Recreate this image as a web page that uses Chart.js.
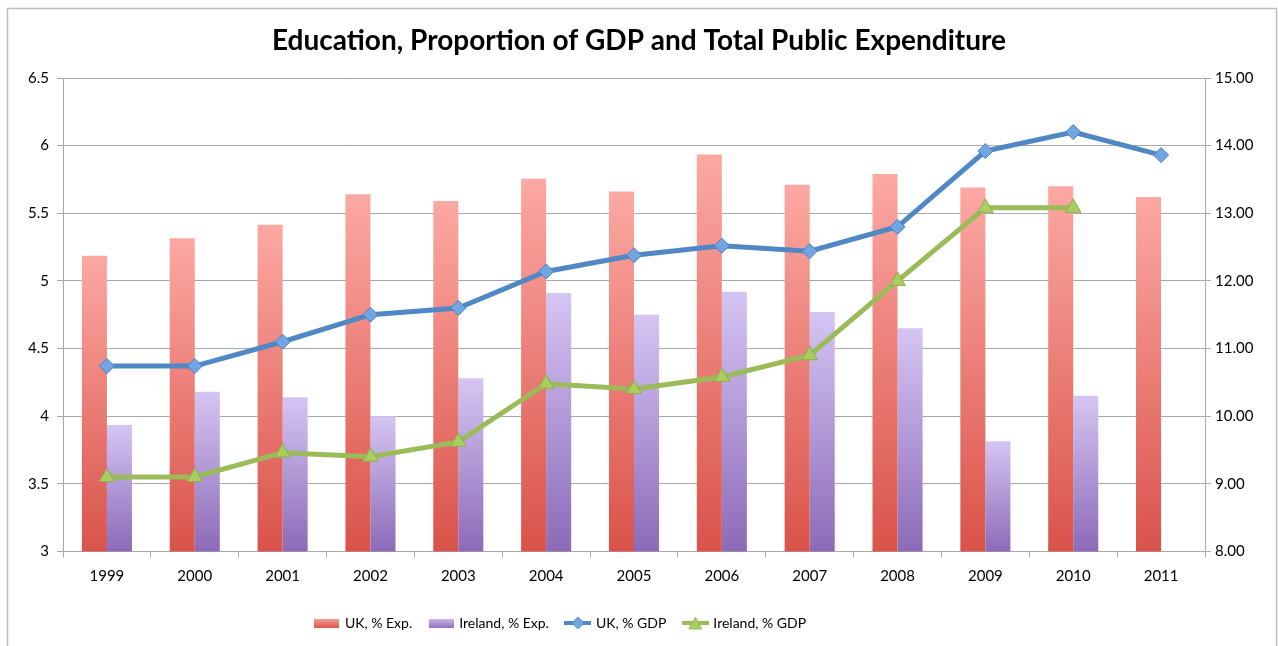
<!DOCTYPE html>
<html>
<head>
<meta charset="utf-8">
<script src="https://cdn.jsdelivr.net/npm/chart.js@4.4.1/dist/chart.umd.min.js"></script>
<style>
  html, body { margin: 0; padding: 0; background: #fff; }
  #wrap { width: 1278px; height: 646px; }
</style>
</head>
<body>
<div id="wrap"><canvas id="myChart" width="1278" height="646"></canvas></div>
<script>
  const years = ['1999', '2000', '2001', '2002', '2003', '2004', '2005', '2006', '2007', '2008', '2009', '2010', '2011'];
  // % of total public expenditure (right axis)
  const ukExp = [12.37, 12.63, 12.83, 13.28, 13.18, 13.51, 13.32, 13.87, 13.42, 13.58, 13.38, 13.40, 13.24];
  const irelandExp = [9.87, 10.36, 10.28, 10.00, 10.56, 11.82, 11.50, 11.84, 11.54, 11.30, 9.63, 10.30, null];
  // % of GDP (left axis)
  const ukGdp = [4.37, 4.37, 4.55, 4.75, 4.80, 5.07, 5.19, 5.26, 5.22, 5.40, 5.96, 6.10, 5.93];
  const irelandGdp = [3.55, 3.55, 3.73, 3.70, 3.81, 4.24, 4.20, 4.29, 4.45, 5.00, 5.54, 5.54, null];

  const FONT = 'Lato';
  const GRID = '#a8a8a8';

  function barGradient(top, bottom) {
    return function (c) {
      const chart = c.chart;
      const area = chart.chartArea;
      if (!area || c.raw == null) return bottom;
      const y = chart.scales.y2.getPixelForValue(c.raw);
      const g = chart.ctx.createLinearGradient(0, y, 0, area.bottom);
      g.addColorStop(0, top);
      g.addColorStop(1, bottom);
      return g;
    };
  }

  // little legend pictures, like Excel draws them
  function barIcon(top, bottom) {
    const cv = document.createElement('canvas');
    cv.width = 25; cv.height = 9;
    const x = cv.getContext('2d');
    const g = x.createLinearGradient(0, 0, 0, 9);
    g.addColorStop(0, top);
    g.addColorStop(1, bottom);
    x.fillStyle = g;
    x.fillRect(0, 0, 25, 9);
    return cv;
  }
  function lineIcon(color, fill, shape) {
    const cv = document.createElement('canvas');
    cv.width = 27; cv.height = 14;
    const x = cv.getContext('2d');
    x.strokeStyle = color; x.lineWidth = 4;
    x.beginPath(); x.moveTo(0, 7); x.lineTo(27, 7); x.stroke();
    x.fillStyle = fill; x.strokeStyle = color; x.lineWidth = 1;
    x.beginPath();
    if (shape === 'diamond') {
      x.moveTo(13.5, 1); x.lineTo(19.5, 7); x.lineTo(13.5, 13); x.lineTo(7.5, 7);
    } else {
      x.moveTo(13.5, 1); x.lineTo(20, 13); x.lineTo(7, 13);
    }
    x.closePath(); x.fill(); x.stroke();
    return cv;
  }

  const icons = [
    barIcon('#f7a09b', '#dc5a50'),
    barIcon('#cdb9ec', '#9273c0'),
    lineIcon('#4f88c5', '#71a5e3', 'diamond'),
    lineIcon('#9bbb59', '#aacd5f', 'triangle')
  ];

  const framePlugin = {
    id: 'frame',
    beforeDraw(chart) {
      const c = chart.ctx;
      c.save();
      c.fillStyle = '#fff';
      c.fillRect(0, 0, chart.width, chart.height);
      c.restore();
    },
    afterDraw(chart) {
      const c = chart.ctx;
      c.save();
      c.strokeStyle = '#bdbdbd';
      c.lineWidth = 1.5;
      c.strokeRect(7.5, 8.5, 1269, 645);
      c.restore();
    },
    afterLayout(chart) {
      // Excel puts the legend a bit left of centre
      chart.legend.left -= 78;
      chart.legend.right -= 78;
    }
  };

  const ctx = document.getElementById('myChart');
  const chart = new Chart(ctx, {
    type: 'bar',
    data: {
      labels: years,
      datasets: [
        {
          label: 'UK, % Exp.',
          data: ukExp,
          yAxisID: 'y2',
          backgroundColor: barGradient('#fca8a3', '#d9534a'),
          categoryPercentage: 0.57,
          barPercentage: 1,
          order: 2
        },
        {
          label: 'Ireland, % Exp.',
          data: irelandExp,
          yAxisID: 'y2',
          backgroundColor: barGradient('#d5c5f3', '#8c6ab8'),
          categoryPercentage: 0.57,
          barPercentage: 1,
          order: 2
        },
        {
          type: 'line',
          label: 'UK, % GDP',
          data: ukGdp,
          yAxisID: 'y',
          borderColor: '#4f88c5',
          borderWidth: 5,
          pointStyle: 'rectRot',
          pointRadius: 7.5,
          pointBackgroundColor: '#71a5e3',
          pointBorderColor: '#4a80bd',
          pointBorderWidth: 1,
          tension: 0,
          order: 1
        },
        {
          type: 'line',
          label: 'Ireland, % GDP',
          data: irelandGdp,
          yAxisID: 'y',
          borderColor: '#9bbb59',
          borderWidth: 5,
          pointStyle: 'triangle',
          pointRadius: 9,
          pointBackgroundColor: '#aacd5f',
          pointBorderColor: '#8eac4f',
          pointBorderWidth: 1,
          tension: 0,
          order: 1
        }
      ]
    },
    options: {
      responsive: false,
      animation: false,
      layout: { padding: { left: 0, right: 0, bottom: 6 } },
      plugins: {
        title: {
          display: true,
          text: 'Education, Proportion of GDP and Total Public Expenditure',
          color: '#000',
          font: { family: FONT, size: 28, weight: 'bold' },
          padding: { top: 24, bottom: 20.4 }
        },
        legend: {
          position: 'bottom',
          labels: {
            usePointStyle: true,
            pointStyleWidth: 22,
            padding: 18,
            color: '#000',
            font: { family: FONT, size: 14 },
            generateLabels: (chart) => chart.data.datasets.map((ds, i) => ({
              text: ds.label,
              pointStyle: icons[i],
              datasetIndex: i,
              fillStyle: 'transparent',
              strokeStyle: 'transparent',
              lineWidth: 0,
              fontColor: '#000'
            }))
          }
        },
        tooltip: { enabled: false }
      },
      scales: {
        x: {
          grid: { drawOnChartArea: false, color: GRID, tickLength: 6, offset: true },
          border: { color: GRID },
          ticks: { color: '#000', font: { family: FONT, size: 15 }, padding: 10, maxRotation: 0 },
          afterFit: (s) => { s.height = 46.6; }
        },
        y: {
          position: 'left',
          min: 3,
          max: 6.5,
          ticks: {
            stepSize: 0.5,
            color: '#000',
            font: { family: FONT, size: 15 },
            padding: 8,
            callback: (v) => String(v)
          },
          grid: { color: GRID, tickLength: 6 },
          border: { color: GRID },
          afterFit: (s) => { s.width = 63; }
        },
        y2: {
          position: 'right',
          min: 8,
          max: 15,
          ticks: {
            stepSize: 1,
            color: '#000',
            font: { family: FONT, size: 15 },
            padding: 4,
            callback: (v) => v.toFixed(2)
          },
          grid: { drawOnChartArea: false, color: GRID, tickLength: 6 },
          border: { color: GRID },
          afterFit: (s) => { s.width = 73; }
        }
      }
    },
    plugins: [framePlugin]
  });
  // fix the legend band height so the plot bottom lands where Excel had it
  chart.legend.afterFit = function () { this.height = 49.4; };
  chart.update();
</script>
</body>
</html>
